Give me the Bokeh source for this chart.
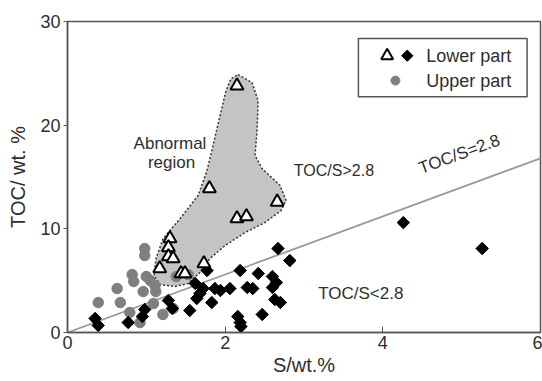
import numpy as np
from bokeh.plotting import figure
from bokeh.models import Range1d, Label
from bokeh.embed import file_html
from bokeh.resources import INLINE

# ---- data ----
lower_tri_s = [1.30, 1.28, 1.28, 1.34, 1.17, 1.44, 1.49, 1.73, 1.80, 2.15, 2.27, 2.66, 2.15]
lower_tri_toc = [9.06, 8.20, 7.33, 7.14, 6.17, 5.69, 5.69, 6.65, 13.9, 11.0, 11.2, 12.6, 23.8]

lower_dia_s = [0.35, 0.39, 0.77, 0.95, 0.98, 1.28, 1.33, 1.55, 1.64, 1.68, 1.72, 1.83, 1.87,
               1.94, 2.06, 1.62, 1.77, 2.19, 2.42, 2.60, 2.65, 2.60, 2.28, 2.35, 2.16, 2.19,
               2.20, 2.47, 2.63, 2.70, 2.67, 2.82, 4.26, 5.26]
lower_dia_toc = [1.35, 0.68, 0.96, 1.54, 2.22, 3.09, 2.31, 2.12, 3.28, 3.76, 4.24, 2.89, 4.24,
                 4.05, 4.24, 4.73, 5.98, 5.98, 5.69, 5.40, 4.82, 4.34, 4.34, 4.24, 1.54, 0.96,
                 0.58, 1.74, 3.18, 2.89, 8.10, 6.94, 10.6, 8.10]

upper_s = [0.39, 0.63, 0.67, 0.79, 0.92, 0.82, 0.84, 0.98, 0.98, 1.00, 1.05, 0.96, 1.11,
           1.12, 1.09, 1.21, 1.34, 1.53, 1.38]
upper_toc = [2.89, 4.24, 2.89, 1.93, 0.96, 5.59, 4.92, 8.10, 7.43, 5.40, 5.01, 3.95, 4.53,
             3.95, 2.80, 1.74, 2.31, 5.59, 5.40]

region_s = [2.164, 2.341, 2.418, 2.405, 2.379, 2.468, 2.697, 2.773, 2.709, 2.506, 2.253, 1.999,
            1.808, 1.681, 1.529, 1.364, 1.174, 1.098, 1.123, 1.212, 1.428, 1.656, 1.770,
            1.846, 1.935, 2.011, 2.075]
region_toc = [24.88, 24.11, 22.37, 19.48, 17.07, 15.81, 14.18, 12.73, 11.76, 10.61, 9.64, 8.39,
              7.14, 5.79, 4.73, 4.44, 4.63, 5.50, 7.14, 9.06, 10.99, 13.21, 15.62, 18.03,
              20.93, 23.34, 24.49]

ratio = 2.8
ratio_line_s = [0, 6]
x_ticks = [0, 2, 4, 6]
y_ticks = [0, 10, 20, 30]

FONT = "Liberation Sans"
TXT = "#2e2e2e"

p = figure(width=542, height=381, output_backend="svg", toolbar_location=None,
           x_range=Range1d(0, 6), y_range=Range1d(0, 30),
           min_border_left=67, min_border_right=2, min_border_top=21, min_border_bottom=49)
p.grid.visible = False
p.background_fill_color = "white"
p.outline_line_color = "#555555"
p.outline_line_width = 1.5

for ax in (p.xaxis[0], p.yaxis[0]):
    ax.axis_line_color = "#555555"
    ax.axis_line_width = 1.5
    ax.major_tick_line_color = "#555555"
    ax.minor_tick_line_color = None
    ax.major_label_text_font = FONT
    ax.major_label_text_font_size = "18px"
    ax.major_label_text_color = TXT
    ax.axis_label_text_font = FONT
    ax.axis_label_text_font_size = "20px"
    ax.axis_label_text_font_style = "normal"
    ax.axis_label_text_color = TXT

p.xaxis.ticker = x_ticks
p.yaxis.ticker = y_ticks
p.xaxis.major_tick_in = 6
p.xaxis.major_tick_out = 0
p.yaxis.major_tick_in = 0
p.yaxis.major_tick_out = 4
p.xaxis.major_label_standoff = 3
p.yaxis.major_label_standoff = 3
p.xaxis.axis_label = "S/wt.%"
p.yaxis.axis_label = "TOC/ wt. %"
p.xaxis.axis_label_standoff = 2
p.yaxis.axis_label_standoff = 8

# abnormal region
p.patch(region_s, region_toc, fill_color="#c4c4c4", line_color="#333333",
        line_dash="2 2", line_width=1.5)

# TOC/S = 2.8 line
p.line(ratio_line_s, [ratio * v for v in ratio_line_s], line_color="#999999", line_width=1.8)

# points
p.scatter(upper_s, upper_toc, marker="circle", size=10.5, fill_color="#7f7f7f", line_color="#7f7f7f")
p.scatter(lower_dia_s, lower_dia_toc, marker="square", angle=np.pi / 4, size=8.8,
          fill_color="black", line_color="black")
p.scatter(lower_tri_s, lower_tri_toc, marker="triangle", size=13, fill_color="white",
          line_color="black", line_width=2)

# annotations
def lab(x, y, text, size="17px", angle=0.0, align="center"):
    p.add_layout(Label(x=x, y=y, text=text, text_font=FONT, text_font_size=size,
                       text_color=TXT, text_align=align, text_baseline="middle", angle=angle))

lab(1.30, 18.2, "Abnormal")
lab(1.32, 16.4, "region")
lab(3.38, 15.6, "TOC/S>2.8", size="16px")
lab(3.72, 3.8, "TOC/S<2.8")
lab(4.97, 17.2, "TOC/S=2.8", angle=np.arctan(ratio * (311 / 30) / (473 / 6)))

# legend box
p.quad(left=[3.69], right=[5.83], bottom=[22.75], top=[28.35], fill_color="white",
       line_color="#555555", line_width=1.5)
p.scatter([4.055], [26.7], marker="triangle", size=12, fill_color="white",
          line_color="black", line_width=2)
p.scatter([4.31], [26.7], marker="square", angle=np.pi / 4, size=8, fill_color="black",
          line_color="black")
p.scatter([4.16], [24.3], marker="circle", size=9, fill_color="#7f7f7f", line_color="#7f7f7f")
lab(4.55, 26.7, "Lower part", size="18px", align="left")
lab(4.55, 24.3, "Upper part", size="18px", align="left")

open("out.html", "w").write(file_html(p, INLINE))
